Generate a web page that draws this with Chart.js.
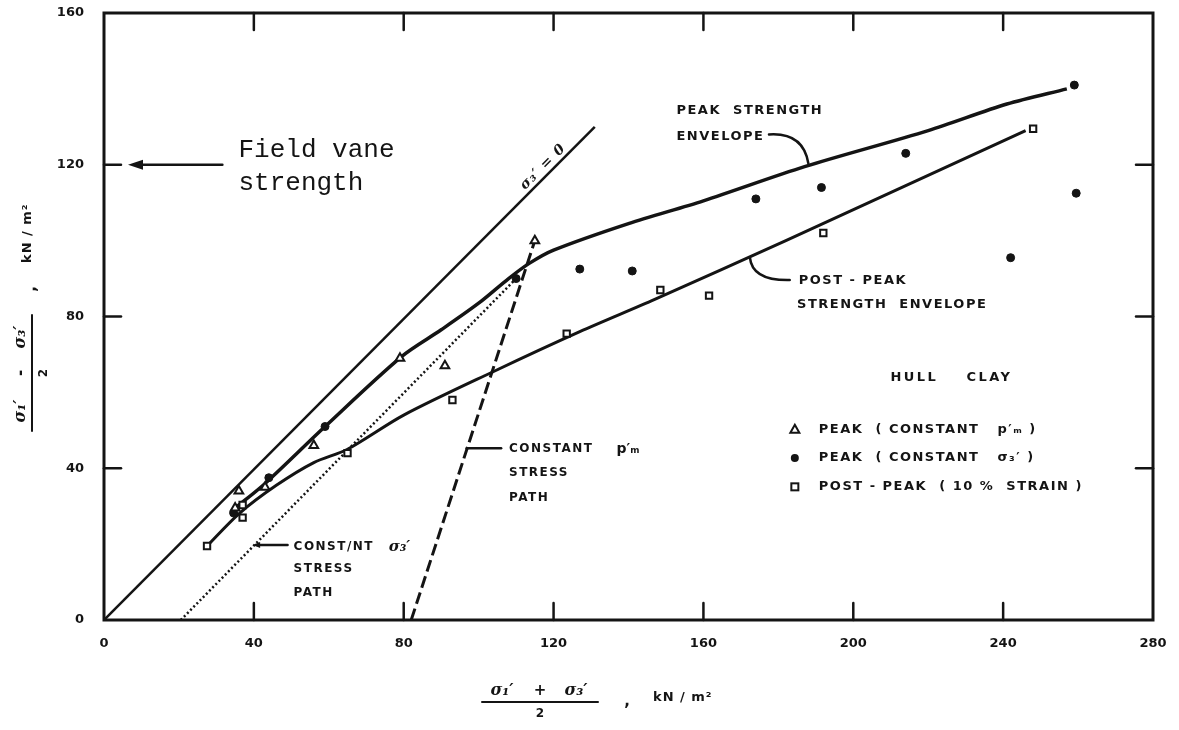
<!DOCTYPE html>
<html>
<head>
<meta charset="utf-8">
<title>Hull Clay stress paths</title>
<script src="https://cdn.jsdelivr.net/npm/chart.js@4.4.1/dist/chart.umd.min.js"></script>
<style>
  html, body { margin: 0; padding: 0; background: #fff; }
  #wrap { width: 1179px; height: 730px; position: relative; }
</style>
</head>
<body>
<div id="wrap"><canvas id="chart"></canvas></div>
<script>
// axis ticks
const xTicks = [0, 40, 80, 120, 160, 200, 240, 280];
const yTicks = [0, 40, 80, 120, 160];

// peak (constant p'm) - open triangles
const peakPmX = [36, 43, 35, 56, 79, 91, 115];
const peakPmY = [34, 35, 29.5, 46, 69, 67, 100];

// peak (constant sigma3') - filled dots
const peakS3X = [34.6, 44, 59, 110, 127, 141, 174, 191.5, 214, 242, 259, 259.5];
const peakS3Y = [28.2, 37.5, 51, 90, 92.5, 92, 111, 114, 123, 95.5, 141, 112.5];

// post-peak (10% strain) - open squares
const postX = [27.5, 37, 37, 65, 93, 123.5, 148.5, 161.5, 192, 248];
const postY = [19.5, 30.3, 27, 44, 58, 75.5, 87, 85.5, 102, 129.5];

// sigma3' = 0 line
const zeroS3X = [0, 131];
const zeroS3Y = [0, 130];

// peak strength envelope
const peakEnvX = [35, 43, 59, 79.5, 90, 100, 108, 113.5, 120, 140, 160, 187, 220, 241, 257];
const peakEnvY = [29.5, 36, 51, 69.5, 76.5, 83.5, 90, 94, 97.5, 104.5, 110.5, 119.5, 129, 136, 140];

// post-peak strength envelope
const postEnvX = [27.5, 36, 46, 56, 65, 80, 104, 127, 147, 182, 246];
const postEnvY = [19.5, 28, 35.5, 41.5, 45, 54, 65.5, 76, 84.5, 100, 129];

// stress paths
const s3PathX = [20.5, 110];
const s3PathY = [0, 90];
const pmPathX = [82, 115];
const pmPathY = [0, 100];

const fieldVane = 120;

const INK = '#141414';
const LBL = 'bold 13px "DejaVu Sans", sans-serif';
const LBL_SMALL = 'bold 12px "DejaVu Sans", sans-serif';

function pts(xs, ys) {
    return xs.map((x, i) => ({ x: x, y: ys[i] }));
}

function lineSet(xs, ys, width, dash) {
    return {
        data: pts(xs, ys),
        showLine: true,
        borderColor: INK,
        borderWidth: width,
        borderDash: dash || [],
        pointRadius: 0,
        fill: false
    };
}

function text(ctx, s, x, y, font, align, spacing) {
    ctx.font = font || LBL;
    ctx.letterSpacing = spacing || '1.5px';
    ctx.textAlign = align || 'left';
    ctx.textBaseline = 'middle';
    ctx.fillText(s, x, y);
}

function seg(ctx, x1, y1, x2, y2) {
    ctx.beginPath();
    ctx.moveTo(x1, y1);
    ctx.lineTo(x2, y2);
    ctx.stroke();
}

function arrowLeft(ctx, tipX, y, len, half) {
    ctx.beginPath();
    ctx.moveTo(tipX, y);
    ctx.lineTo(tipX + len, y - half);
    ctx.lineTo(tipX + len, y + half);
    ctx.closePath();
    ctx.fill();
}

// fraction title "(s1' +/- s3')/2 , kN/m2" drawn around (0,0)
function axisTitle(ctx, sign, unitAt) {
    const sig = 'bold italic 16px "DejaVu Serif", serif';
    text(ctx, 'σ\u2081\u2032', -38, -11, sig, 'center', '0px');
    text(ctx, sign, 0, -11, 'bold 15px "DejaVu Sans", sans-serif', 'center', '0px');
    text(ctx, 'σ\u2083\u2032', 36, -11, sig, 'center', '0px');
    ctx.lineWidth = 2;
    seg(ctx, -58, 0, 58, 0);
    text(ctx, '2', 0, 12, 'bold 12px "DejaVu Sans", sans-serif', 'center', '0px');
    text(ctx, ',', unitAt - 26, 0, 'bold 15px "DejaVu Sans", sans-serif', 'center', '0px');
    text(ctx, 'kN / m\u00b2', unitAt, -4, 'bold 13px "DejaVu Sans", sans-serif', 'left', '1px');
}

const overlay = {
    id: 'overlay',
    afterDatasetsDraw(chart) {
        const ctx = chart.ctx;
        const a = chart.chartArea;
        const X = v => chart.scales.x.getPixelForValue(v);
        const Y = v => chart.scales.y.getPixelForValue(v);
        ctx.save();
        ctx.strokeStyle = INK;
        ctx.fillStyle = INK;
        ctx.lineCap = 'round';

        // frame and inward ticks
        ctx.lineWidth = 3;
        ctx.strokeRect(a.left, a.top, a.right - a.left, a.bottom - a.top);
        ctx.lineWidth = 2.5;
        xTicks.slice(1, -1).forEach(v => {
            seg(ctx, X(v), a.bottom, X(v), a.bottom - 17);
            seg(ctx, X(v), a.top, X(v), a.top + 17);
        });
        yTicks.slice(1, -1).forEach(v => {
            seg(ctx, a.left, Y(v), a.left + 17, Y(v));
            seg(ctx, a.right, Y(v), a.right - 17, Y(v));
        });

        // field vane strength
        ctx.lineWidth = 2.5;
        seg(ctx, X(8), Y(fieldVane), X(31.6), Y(fieldVane));
        arrowLeft(ctx, X(6.4), Y(fieldVane), 15, 5);
        text(ctx, 'Field vane', X(35.9), Y(123.9), '26px "Liberation Mono", monospace', 'left', '0px');
        text(ctx, 'strength', X(35.9), Y(115.2), '26px "Liberation Mono", monospace', 'left', '0px');

        // sigma3' = 0 label along the line
        const ang = Math.atan2(Y(zeroS3Y[1]) - Y(zeroS3Y[0]), X(zeroS3X[1]) - X(zeroS3X[0]));
        ctx.save();
        ctx.translate(X(117.2), Y(119.4));
        ctx.rotate(ang);
        text(ctx, 'σ\u2083\u2032 = 0', 0, 0, 'bold italic 14px "DejaVu Serif", serif', 'center', '1px');
        ctx.restore();

        // peak strength envelope label
        text(ctx, 'PEAK  STRENGTH', X(152.8), Y(134.2));
        text(ctx, 'ENVELOPE', X(152.8), Y(127.3));
        ctx.lineWidth = 2.5;
        ctx.beginPath();
        ctx.moveTo(X(177.5), Y(128.0));
        ctx.quadraticCurveTo(X(186.6), Y(128.6), X(188.0), Y(120.4));
        ctx.stroke();

        // post-peak envelope label
        text(ctx, '- POST - PEAK', X(182.0), Y(89.4));
        text(ctx, 'STRENGTH  ENVELOPE', X(185.0), Y(83.0));
        ctx.beginPath();
        ctx.moveTo(X(183.0), Y(89.6));
        ctx.quadraticCurveTo(X(173.0), Y(89.4), X(172.4), Y(95.6));
        ctx.stroke();

        // constant p'm stress path label
        seg(ctx, X(96.8), Y(45.3), X(106), Y(45.3));
        text(ctx, 'CONSTANT', X(108.1), Y(45.1), LBL_SMALL);
        text(ctx, 'p\u2032\u2098', X(136.8), Y(45.1), 'bold 14px "DejaVu Sans", sans-serif', 'left', '0px');
        text(ctx, 'STRESS', X(108.1), Y(38.7), LBL_SMALL);
        text(ctx, 'PATH', X(108.1), Y(32.2), LBL_SMALL);

        // constant sigma3' stress path label
        seg(ctx, X(40.5), Y(19.8), X(49), Y(19.8));
        arrowLeft(ctx, X(39.8), Y(19.8), 7, 3);
        text(ctx, 'CONST/NT', X(50.6), Y(19.2), LBL_SMALL);
        text(ctx, 'σ\u2083\u2032', X(76), Y(19.2), 'bold italic 15px "DejaVu Serif", serif', 'left', '0px');
        text(ctx, 'STRESS', X(50.6), Y(13.4), LBL_SMALL);
        text(ctx, 'PATH', X(50.6), Y(7.1), LBL_SMALL);

        // hull clay legend
        text(ctx, 'HULL    CLAY', X(209.9), Y(64.0), 'bold 13px "DejaVu Sans", sans-serif', 'left', '2.5px');
        const mx = X(184.4);
        const rows = [Y(50.3), Y(42.7), Y(35.1)];
        ctx.lineWidth = 2;
        ctx.beginPath();
        ctx.moveTo(mx, rows[0] - 4.5);
        ctx.lineTo(mx + 4.5, rows[0] + 3.5);
        ctx.lineTo(mx - 4.5, rows[0] + 3.5);
        ctx.closePath();
        ctx.stroke();
        ctx.beginPath();
        ctx.arc(mx, rows[1], 4, 0, Math.PI * 2);
        ctx.fill();
        ctx.strokeRect(mx - 3.5, rows[2] - 3.5, 7, 7);
        const tx = X(190.8);
        text(ctx, 'PEAK  ( CONSTANT   p\u2032\u2098 )', tx, rows[0]);
        text(ctx, 'PEAK  ( CONSTANT   σ\u2083\u2032 )', tx, rows[1]);
        text(ctx, 'POST - PEAK  ( 10 %  STRAIN )', tx, rows[2]);

        // axis titles
        ctx.save();
        ctx.translate(540, a.bottom + 82);
        axisTitle(ctx, '+', 113);
        ctx.restore();
        ctx.save();
        ctx.translate(32, 373);
        ctx.rotate(-Math.PI / 2);
        axisTitle(ctx, '-', 110);
        ctx.restore();

        ctx.restore();
    }
};

new Chart(document.getElementById('chart'), {
    type: 'scatter',
    data: {
        datasets: [
            {
                data: pts(peakPmX, peakPmY),
                pointStyle: 'triangle',
                pointRadius: 5,
                backgroundColor: '#fff',
                borderColor: INK,
                borderWidth: 2
            },
            {
                data: pts(peakS3X, peakS3Y),
                pointStyle: 'circle',
                pointRadius: 4,
                backgroundColor: INK,
                borderColor: INK,
                borderWidth: 1
            },
            {
                data: pts(postX, postY),
                pointStyle: 'rect',
                pointRadius: 4.5,
                backgroundColor: '#fff',
                borderColor: INK,
                borderWidth: 2
            },
            Object.assign(lineSet(peakEnvX, peakEnvY, 3.5), { tension: 0.3 }),
            Object.assign(lineSet(postEnvX, postEnvY, 3), { tension: 0.3 }),
            lineSet(zeroS3X, zeroS3Y, 2.5),
            lineSet(s3PathX, s3PathY, 2.5, [2, 2.5]),
            lineSet(pmPathX, pmPathY, 3, [12, 5])
        ]
    },
    options: {
        responsive: true,
        maintainAspectRatio: false,
        animation: false,
        events: [],
        layout: { padding: { top: 13, right: 26, left: 0, bottom: 0 } },
        plugins: {
            legend: { display: false },
            tooltip: { enabled: false }
        },
        scales: {
            x: {
                type: 'linear',
                min: 0,
                max: 280,
                afterFit: scale => {
                    scale.height = 110;
                    scale.paddingLeft = 0;
                    scale.paddingRight = 0;
                },
                afterBuildTicks: scale => { scale.ticks = xTicks.map(v => ({ value: v })); },
                grid: { display: false, drawTicks: false },
                border: { display: false },
                ticks: {
                    padding: 16,
                    color: INK,
                    maxRotation: 0,
                    font: { family: '"DejaVu Sans", sans-serif', size: 13, weight: 'bold' }
                }
            },
            y: {
                type: 'linear',
                min: 0,
                max: 160,
                afterFit: scale => {
                    scale.width = 104;
                    scale.paddingTop = 0;
                    scale.paddingBottom = 0;
                },
                afterBuildTicks: scale => { scale.ticks = yTicks.map(v => ({ value: v })); },
                grid: { display: false, drawTicks: false },
                border: { display: false },
                ticks: {
                    padding: 20,
                    color: INK,
                    font: { family: '"DejaVu Sans", sans-serif', size: 13, weight: 'bold' }
                }
            }
        }
    },
    plugins: [overlay]
});
</script>
</body>
</html>
